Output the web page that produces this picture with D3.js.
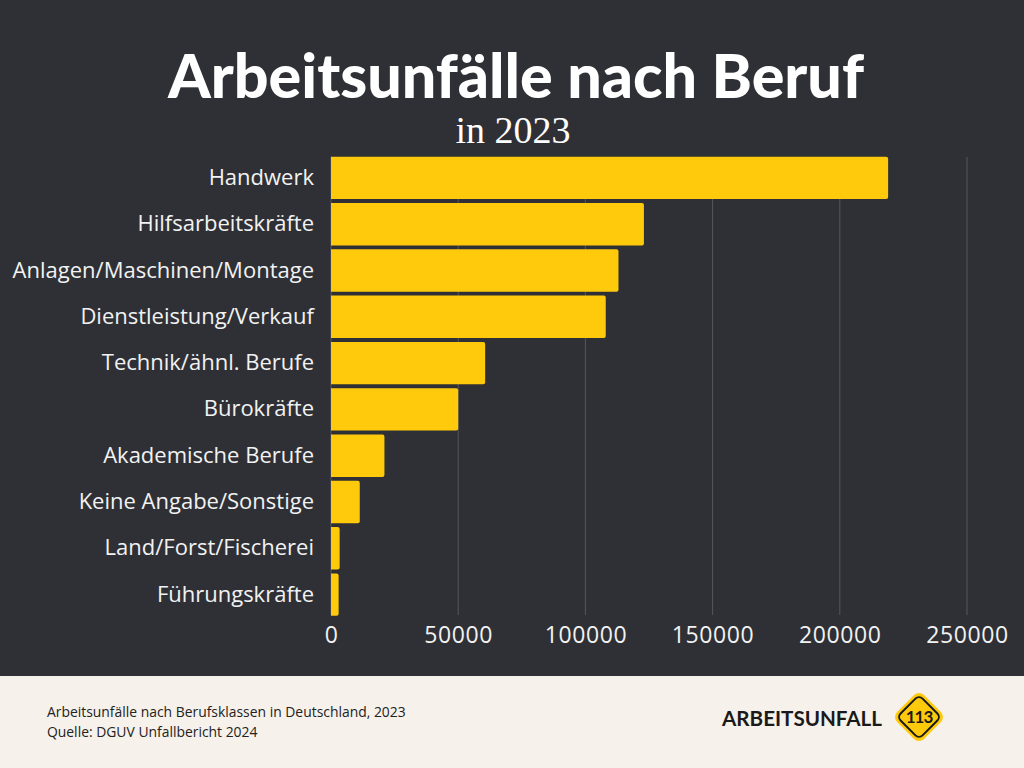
<!DOCTYPE html>
<html><head><meta charset="utf-8">
<script src="https://cdn.jsdelivr.net/npm/d3@7"></script>
<style>html,body{margin:0;padding:0;background:#2f3035;}svg{display:block}</style>
</head><body>
<svg id="chart" width="1024" height="768"></svg>
<script>
const categories = ["Handwerk","Hilfsarbeitskräfte","Anlagen/Maschinen/Montage","Dienstleistung/Verkauf","Technik/ähnl. Berufe","Bürokräfte","Akademische Berufe","Keine Angabe/Sonstige","Land/Forst/Fischerei","Führungskräfte"];
const values = [219000, 123000, 113000, 108000, 60600, 50000, 21000, 11300, 3400, 3000];
const tickValues = [0, 50000, 100000, 150000, 200000, 250000];

const svg = d3.select("#chart");
const W = 1024, H = 768;
svg.append("rect").attr("width", W).attr("height", H).attr("fill", "#2f3035");

const x = d3.scaleLinear().domain([0, 250000]).range([331, 967]);
const y = d3.scaleBand().domain(categories).range([152.8, 619.7]).padding(0.085);

// gridlines
svg.append("g").selectAll("line").data(tickValues).join("line")
  .attr("x1", d => x(d)).attr("x2", d => x(d))
  .attr("y1", 157).attr("y2", 615)
  .attr("stroke", "#55565c").attr("stroke-width", 1);

// bars
svg.append("g").selectAll("path").data(values).join("path")
  .attr("fill", "#ffca0b")
  .attr("d", (d, i) => {
    const x0 = x(0), x1 = x(d), y0 = y(categories[i]), h = y.bandwidth(), r = 2;
    return `M${x0},${y0} H${x1 - r} Q${x1},${y0} ${x1},${y0 + r} V${y0 + h - r} Q${x1},${y0 + h} ${x1 - r},${y0 + h} H${x0} Z`;
  });

// category axis
const yAxis = svg.append("g").attr("transform", "translate(331,0)")
  .call(d3.axisLeft(y).tickSize(0).tickPadding(17));
yAxis.select(".domain").remove();
yAxis.selectAll("text").attr("fill", "#f2f2f2").style("font-family", "'Open Sans', Lato, sans-serif").style("font-size", "22px");

// value axis
const xAxis = svg.append("g").attr("transform", "translate(0,621)")
  .call(d3.axisBottom(x).tickValues(tickValues).tickFormat(d3.format("d")).tickSize(0).tickPadding(6));
xAxis.select(".domain").remove();
xAxis.selectAll("text").attr("fill", "#f2f2f2").style("font-family", "'Open Sans', Lato, sans-serif").style("font-size", "23px").style("letter-spacing", "0.6px");

// title
svg.append("text").attr("x", 516).attr("y", 98).attr("text-anchor", "middle")
  .attr("fill", "#ffffff").style("font-family", "Lato, 'Open Sans', sans-serif")
  .style("font-weight", "900").style("font-size", "61px")
  .text("Arbeitsunfälle nach Beruf");
svg.append("text").attr("x", 513).attr("y", 143).attr("text-anchor", "middle")
  .attr("fill", "#ffffff").style("font-family", "'Liberation Serif', 'DejaVu Serif', serif")
  .style("font-size", "38px").text("in 2023");

// footer
svg.append("rect").attr("x", 0).attr("y", 676).attr("width", W).attr("height", H - 676).attr("fill", "#f6f1eb");
const foot = svg.append("g").style("font-family", "'Open Sans', Lato, sans-serif").style("font-size", "13.9px").attr("fill", "#222");
foot.append("text").attr("x", 47).attr("y", 717).text("Arbeitsunfälle nach Berufsklassen in Deutschland, 2023");
foot.append("text").attr("x", 47).attr("y", 737).text("Quelle: DGUV Unfallbericht 2024");

// logo
svg.append("text").attr("x", 882).attr("y", 726).attr("text-anchor", "end")
  .attr("fill", "#1a1a1a").style("font-family", "Lato, 'Open Sans', sans-serif")
  .style("font-weight", "700").style("font-size", "20.6px").text("ARBEITSUNFALL");
const logo = svg.append("g").attr("transform", "translate(919,717)");
logo.append("rect").attr("x", -19).attr("y", -19).attr("width", 38).attr("height", 38).attr("rx", 7)
  .attr("transform", "rotate(45)").attr("fill", "#ffca0b");
logo.append("rect").attr("x", -15.5).attr("y", -15.5).attr("width", 31).attr("height", 31).attr("rx", 5)
  .attr("transform", "rotate(45)").attr("fill", "none").attr("stroke", "#1a1a1a").attr("stroke-width", 2);
logo.append("text").attr("x", 0).attr("y", 6).attr("text-anchor", "middle")
  .attr("fill", "#1a1a1a").style("font-family", "Lato, 'Open Sans', sans-serif")
  .style("font-size", "17px").style("font-weight", "700").style("letter-spacing", "-1px").text("113");
</script>
</body></html>
